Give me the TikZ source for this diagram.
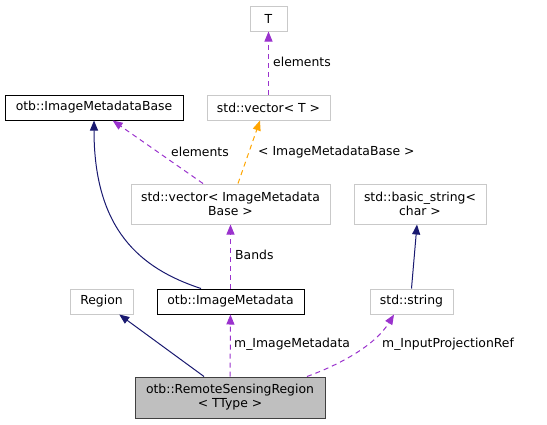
\documentclass[tikz,border=0pt]{standalone}
\usepackage{fontspec}
\setmainfont{DejaVu Sans}
\usetikzlibrary{arrows.meta,positioning}
\definecolor{dxnavy}{RGB}{25,25,112}
\definecolor{dxpurple}{RGB}{154,50,205}
\definecolor{dxorange}{RGB}{255,165,0}
\definecolor{grey75}{RGB}{191,191,191}
\definecolor{ink}{RGB}{0,0,0}
\tikzset{
  cls/.style={draw=#1,fill=white,line width=1pt,align=center,inner sep=0pt,
    minimum height=25pt,font=\fontsize{12.4}{14}\selectfont,text=ink},
  cls/.default=grey75!85,
  % edges
  inherit/.style={-{Triangle[length=10pt,width=8pt]},line width=1pt,draw=dxnavy},
  usage/.style={-{Triangle[length=10pt,width=8pt]},line width=1pt,draw=dxpurple,
    dash pattern=on 5pt off 4pt},
  tmpl/.style={usage,draw=dxorange},
  lbl/.style={font=\fontsize{12.4}{14}\selectfont,inner sep=0pt,anchor=west,text=ink},
}

\begin{document}
\begin{tikzpicture}[x=1pt,y=-1pt]
  \useasboundingbox (0,0) rectangle (547,424);
  % classes
  \node[cls,minimum width=37pt] (tT) at (268.5,18.5) {T};
  \node[cls,minimum width=123pt] (vecT) at (268.5,107.5) {std::vector< T >};
  \node[cls=black,minimum width=178pt] (imdb) at (94,107.5) {otb::ImageMetadataBase};
  \node[cls,minimum width=199pt,minimum height=40pt] (vimdb) at (230.5,204) {std::vector< ImageMetadata\\Base >};
  \node[cls,minimum width=132pt,minimum height=40pt] (bstr) at (420,204) {std::basic\_string<\\char >};
  \node[cls,minimum width=63pt] (region) at (101.5,301.5) {Region};
  \node[cls=black,minimum width=147pt] (imd) at (230.5,301.5) {otb::ImageMetadata};
  \node[cls,minimum width=83pt] (sstr) at (411.5,301.5) {std::string};
  \node[cls=black!75,fill=grey75,minimum width=190pt,minimum height=41pt] (rsr) at (230,397.5)
    {otb::RemoteSensingRegion\\< TType >};
  % connectors
  \draw[usage] (vecT) -- (tT);
  \draw[tmpl] ([xshift=7.5pt]vimdb.north) -- ([xshift=-8.5pt]vecT.south);
  \draw[usage] ([xshift=-27.5pt]vimdb.north) -- (imdb);
  \draw[inherit] ([xshift=-29.5pt]imd.north) .. controls +(-61,-20) and +(0,109) .. (imdb.south);
  \draw[usage] (imd) -- (vimdb);
  \draw[inherit] (sstr.north) -- ([xshift=-3pt]bstr.south);
  \draw[inherit] ([xshift=-26pt]rsr.north) -- (region);
  \draw[usage] (rsr) -- (imd);
  \draw[usage] ([xshift=77pt]rsr.north) .. controls +(33,-12) and +(-19,31) .. ([xshift=-17.5pt]sstr.south);
  % labels
  \node[lbl] (lElemT) at (273,62) {elements};
  \node[lbl] (lElemB) at (171,152) {elements};
  \node[lbl] (lTmpl) at (258,152) {< ImageMetadataBase >};
  \node[lbl] (lBands) at (235,255) {Bands};
  \node[lbl] (lImd) at (234,344) {m\_ImageMetadata};
  \node[lbl] (lProj) at (382,344) {m\_InputProjectionRef};
\end{tikzpicture}
\end{document}
